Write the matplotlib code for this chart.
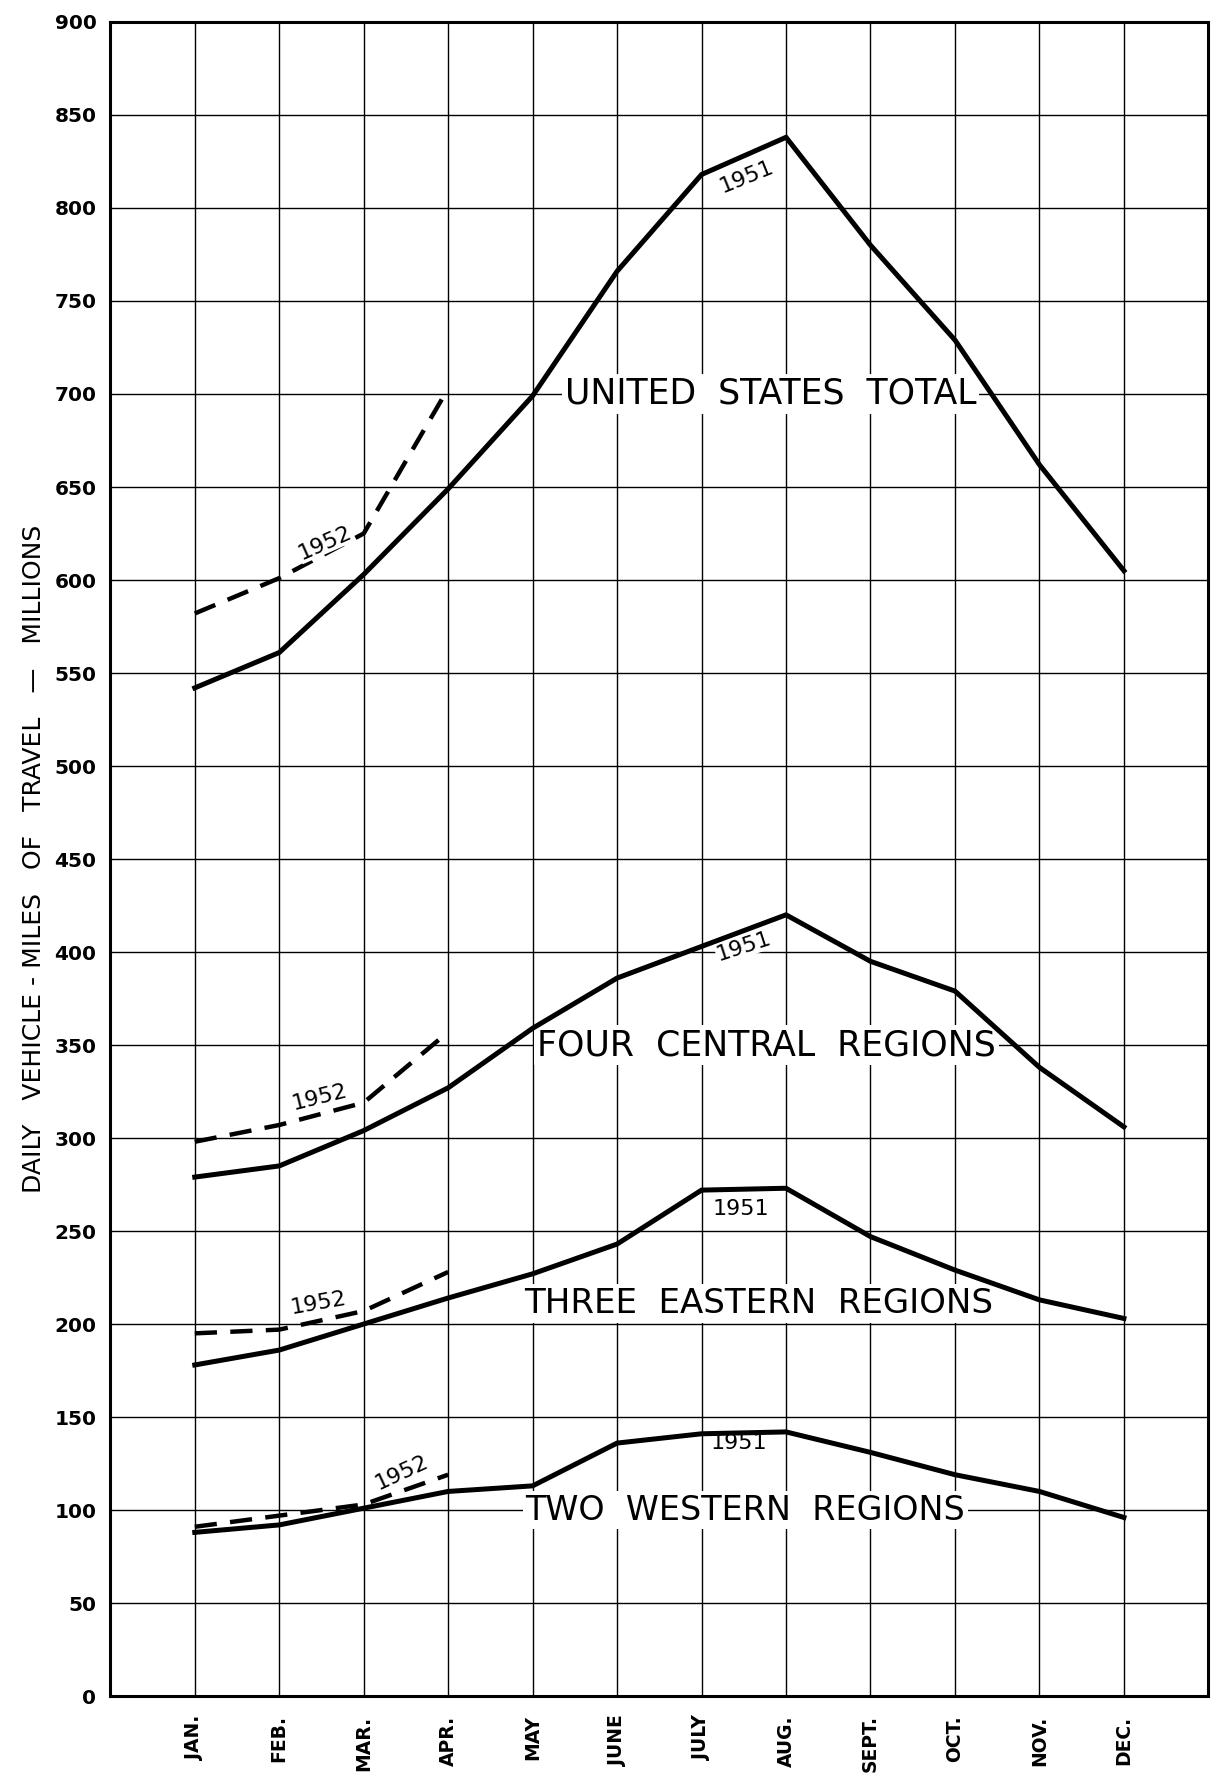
import numpy as np
import matplotlib
matplotlib.use("Agg")
import matplotlib.pyplot as plt

# months (JAN = 1)
months = ["JAN.", "FEB.", "MAR.", "APR.", "MAY", "JUNE", "JULY", "AUG.",
          "SEPT.", "OCT.", "NOV.", "DEC."]
x51 = np.arange(1, 13)
x52 = np.arange(1, 5)

# daily vehicle-miles, millions
us_1951 = [542, 561, 603, 649, 699, 766, 818, 838, 780, 729, 662, 605]
us_1952 = [582, 601, 625, 703]
central_1951 = [279, 285, 304, 327, 359, 386, 403, 420, 395, 379, 338, 306]
central_1952 = [298, 307, 319, 357]
eastern_1951 = [178, 186, 200, 214, 227, 243, 272, 273, 247, 229, 213, 203]
eastern_1952 = [195, 197, 207, 228]
western_1951 = [88, 92, 101, 110, 113, 136, 141, 142, 131, 119, 110, 96]
western_1952 = [91, 97, 103, 119]

yticks = np.arange(0, 901, 50)

fig = plt.figure(figsize=(12.12, 17.73), dpi=100)
ax = fig.add_axes([0.091, 0.0434, 0.906, 0.9442])

ax.set_xlim(0, 13)
ax.set_ylim(0, 900)
ax.set_xticks(x51)
ax.set_xticklabels(months, rotation=90, fontsize=13.5, fontweight="bold")
ax.set_yticks(yticks)
ax.set_yticklabels([str(v) for v in yticks], fontsize=14.5, fontweight="bold")
ax.tick_params(length=0)
ax.tick_params(axis="x", pad=14)
ax.tick_params(axis="y", pad=10)
ax.grid(True, color="black", linewidth=1.0)
ax.set_axisbelow(True)
for s in ax.spines.values():
    s.set_linewidth(2.2)

ax.set_ylabel("DAILY   VEHICLE - MILES   OF   TRAVEL   —   MILLIONS",
              fontsize=18, labelpad=6)

# 1951 solid, 1952 dashed
for y in (us_1951, central_1951, eastern_1951, western_1951):
    ax.plot(x51, y, color="black", linewidth=3.6, solid_joinstyle="miter", zorder=3)
for y in (us_1952, central_1952, eastern_1952, western_1952):
    ax.plot(x52, y, color="black", linewidth=3.2, dashes=(5, 3), zorder=3)

# region labels sit on the grid (white box) but under the curves
box = dict(facecolor="white", edgecolor="none", pad=2)
ax.text(7.82, 700, "UNITED  STATES  TOTAL", fontsize=25, ha="center",
        va="center", bbox=box, zorder=2)
ax.text(7.77, 350, "FOUR  CENTRAL  REGIONS", fontsize=25, ha="center",
        va="center", bbox=box, zorder=2)
ax.text(7.68, 211, "THREE  EASTERN  REGIONS", fontsize=24.5, ha="center",
        va="center", bbox=box, zorder=2)
ax.text(7.52, 100, "TWO  WESTERN  REGIONS", fontsize=24, ha="center",
        va="center", bbox=box, zorder=2)

small = dict(facecolor="white", edgecolor="none", pad=0.5)
# 1951 labels
ax.text(7.53, 817, "1951", fontsize=16, rotation=22, ha="center", va="center", zorder=4)
ax.text(7.5, 403, "1951", fontsize=16, rotation=18, ha="center", va="center",
        bbox=small, zorder=4)
ax.text(7.47, 262, "1951", fontsize=16, ha="center", va="center", zorder=4)
ax.text(7.44, 136, "1951", fontsize=16, ha="center", va="center", zorder=4)
# 1952 labels
ax.text(2.54, 620, "1952", fontsize=16, rotation=24, ha="center", va="center",
        bbox=small, zorder=4)
ax.text(2.48, 322, "1952", fontsize=16, rotation=14, ha="center", va="center",
        bbox=small, zorder=4)
ax.text(2.46, 211, "1952", fontsize=16, rotation=10, ha="center", va="center",
        bbox=small, zorder=4)
ax.text(3.45, 120, "1952", fontsize=16, rotation=25, ha="center", va="center",
        bbox=small, zorder=4)

fig.savefig("out.png", dpi=100, facecolor="white")
